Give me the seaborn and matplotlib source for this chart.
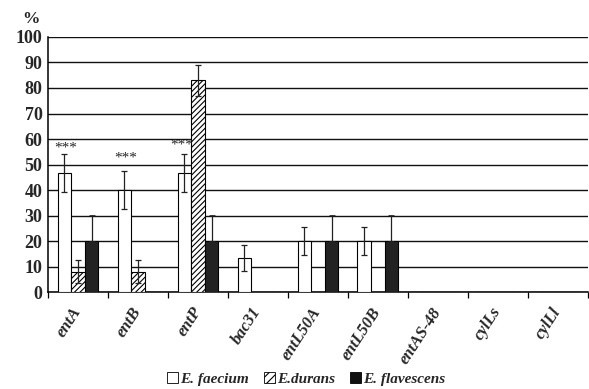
import matplotlib
matplotlib.use("Agg")
import matplotlib.pyplot as plt
import seaborn as sns
import pandas as pd
import numpy as np
from matplotlib.patches import Patch

genes = ["entA", "entB", "entP", "bac31", "entL50A", "entL50B", "entAS-48", "cylLs", "cylLl"]
species = ["E. faecium", "E.durans", "E. flavescens"]
faecium = [46.7, 40.0, 46.7, 13.3, 20.0, 20.0, 0, 0, 0]
durans = [8.0, 8.0, 83.0, 0, 0, 0, 0, 0, 0]
flavescens = [20.0, 0, 20.0, 0, 20.0, 20.0, 0, 0, 0]
faecium_err = [7.5, 7.3, 7.5, 5.0, 5.5, 5.5, 0, 0, 0]
durans_err = [4.5, 4.5, 6.0, 0, 0, 0, 0, 0, 0]
flavescens_err = [10.3, 0, 10.3, 0, 10.3, 10.3, 0, 0, 0]
star_genes = ["entA", "entB", "entP"]
star_y = [56.5, 52.5, 57.5]

sns.set_theme(style="white")
plt.rcParams["font.family"] = ["Liberation Serif", "DejaVu Serif"]
plt.rcParams["hatch.linewidth"] = 0.8

df = pd.DataFrame({
    "gene": genes * 3,
    "species": [species[0]] * 9 + [species[1]] * 9 + [species[2]] * 9,
    "value": faecium + durans + flavescens,
})

fig = plt.figure(figsize=(5.89, 3.89), dpi=100)
ax = fig.add_axes([0.0815, 0.249, 0.9165, 0.656])

sns.barplot(data=df, x="gene", y="value", hue="species", order=genes,
            hue_order=species, palette=["white", "white", "#222222"],
            width=0.68, errorbar=None, edgecolor="black", linewidth=0.8,
            legend=False, ax=ax, zorder=3)

errs = [faecium_err, durans_err, flavescens_err]
vals = [faecium, durans, flavescens]
bar_containers = list(ax.containers)
for k, cont in enumerate(bar_containers):
    for i, p in enumerate(cont.patches):
        if k == 1:
            p.set_hatch("//////")
        cx = p.get_x() + p.get_width() / 2
        e = errs[k][i]
        if e > 0:
            if k == 2:
                ax.errorbar(cx, vals[k][i], yerr=[[0], [e]], fmt="none",
                            ecolor="#222222", elinewidth=0.9, capsize=2.5,
                            capthick=0.6, zorder=4)
            else:
                ax.errorbar(cx, vals[k][i], yerr=e, fmt="none",
                            ecolor="#222222", elinewidth=0.9, capsize=2.5,
                            capthick=0.9, zorder=4)

# stars
for g, yv in zip(star_genes, star_y):
    i = genes.index(g)
    off = -0.27 if g == "entP" else -0.21
    ax.text(i + off, yv, "***", ha="center", va="center", fontsize=11, zorder=5)

ax.set_xlim(-0.5, len(genes) - 0.5)
ax.set_ylim(0, 100)
ax.set_yticks(np.arange(0, 101, 10))
ax.set_yticklabels([str(v) for v in range(0, 101, 10)], fontsize=13, fontweight="bold")
ax.yaxis.grid(True, color="#111111", linewidth=1.0, zorder=0)
ax.set_axisbelow(True)
ax.tick_params(axis="y", length=0, pad=4)

ax.set_xticks(np.arange(-0.5, len(genes), 1.0))
ax.set_xticklabels([])
ax.tick_params(axis="x", which="major", direction="out", length=4, width=0.9, color="black", bottom=True)
ax.set_xticks(np.arange(len(genes)), minor=True)
ax.set_xticklabels(genes, minor=True, rotation=57, ha="right", va="center", rotation_mode="anchor",
                   fontsize=12, fontweight="bold", fontstyle="italic")
ax.tick_params(axis="x", which="minor", length=0, pad=12)
ax.set_xlabel("")
ax.set_ylabel("")

for s in ["top", "right"]:
    ax.spines[s].set_visible(False)
for s in ["left", "bottom"]:
    ax.spines[s].set_color("black")
    ax.spines[s].set_linewidth(1.1)

fig.text(0.052, 0.95, "%", fontsize=12.5, fontweight="bold", ha="center", va="center")

handles = [
    Patch(facecolor="white", edgecolor="black", linewidth=0.6, label=species[0]),
    Patch(facecolor="white", edgecolor="black", linewidth=0.6, hatch="////", label=species[1]),
    Patch(facecolor="#111111", edgecolor="black", linewidth=0.6, label=species[2]),
]
fig.legend(handles=handles, loc="center", bbox_to_anchor=(0.52, 0.025), ncol=3,
           frameon=False, handlelength=0.7, handleheight=0.7, handletextpad=0.15,
           columnspacing=1.0, borderpad=0.0, prop={"family": "Liberation Serif", "weight": "bold",
                                    "style": "italic", "size": 11})

fig.savefig("out.png", dpi=100)
